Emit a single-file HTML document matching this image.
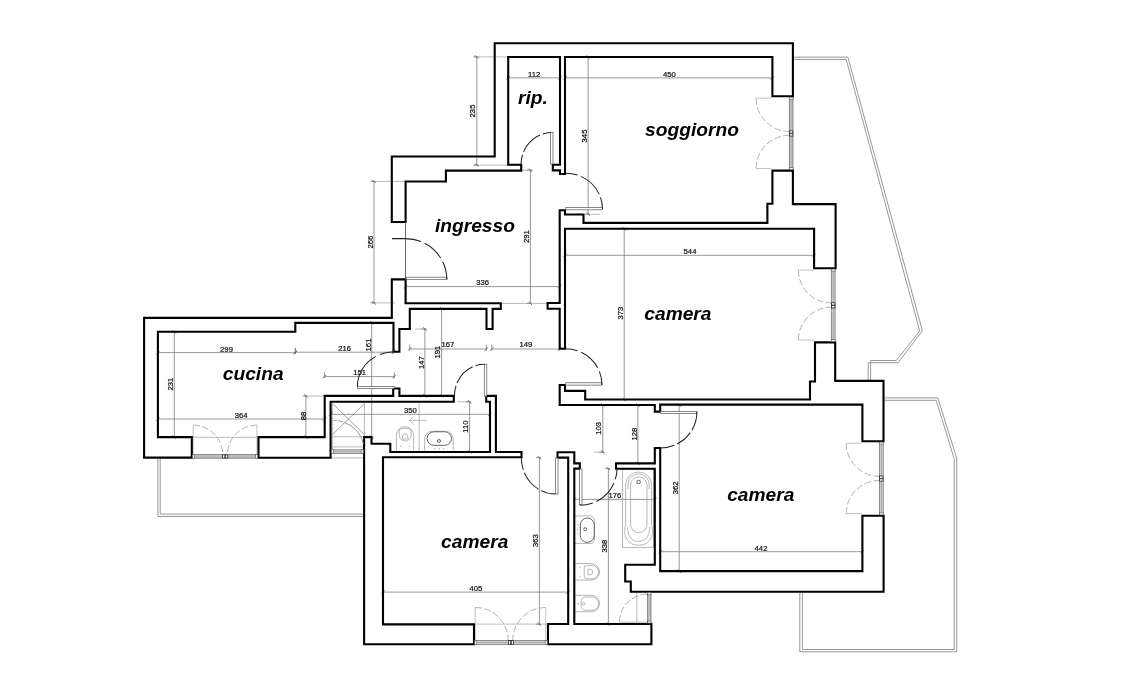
<!DOCTYPE html>
<html><head><meta charset="utf-8"><title>Pianta appartamento</title>
<style>
html,body{margin:0;padding:0;background:#fff;}
body{width:1140px;height:680px;overflow:hidden;font-family:"Liberation Sans",sans-serif;}
svg{display:block}
.w{fill:none;stroke:#000;stroke-width:2.1;stroke-linejoin:miter;}
.d{fill:none;stroke:#7e7e7e;stroke-width:0.8;}
.tk{fill:none;stroke:#555;stroke-width:0.8;}
.e{fill:none;stroke:#a8a8a8;stroke-width:0.8;}
.arc{fill:none;stroke:#222;stroke-width:1.05;}
.leaf{fill:#fff;stroke:#555;stroke-width:0.7;}
.arcl{fill:none;stroke:#a0a0a0;stroke-width:0.8;stroke-dasharray:6.8 2.4;}
.ll{fill:none;stroke:#b4b4b4;stroke-width:0.8;}
.bal{fill:none;stroke:#8c8c8c;stroke-width:0.9;}
.fx{fill:none;stroke:#9a9a9a;stroke-width:0.7;}
.fxd{fill:none;stroke:#555;stroke-width:0.9;}
.lab{font:italic bold 19.2px "Liberation Sans",sans-serif;fill:#000;}
.dim{font:7.7px "Liberation Sans",sans-serif;fill:#111;stroke:#111;stroke-width:0.22;}
</style></head><body>
<svg width="1140" height="680" viewBox="0 0 1140 680">
<rect width="1140" height="680" fill="#fff"/>
<g id="balconies">
<path class="bal" d="M794.2 57.1H847.9L922.4 330.9L898 362.7H868.2V380"/>
<path class="bal" d="M794.2 59.4H846.2L919.7 331L896.2 360.5H870.6V380"/>
<path class="bal" d="M884.6 397.9H937.8L956.7 458.1V651.8H799.8V593"/>
<path class="bal" d="M884.6 400.3H936.2L954.2 458.8V649.5H802.4V593"/>
<path class="bal" d="M157.9 458.7V516.5H363.3"/>
<path class="bal" d="M160.2 458.7V514.1H363.3"/>
</g>
<g id="ext">
<path class="e" d="M474.3 56.9L508 56.9"/>
<path class="e" d="M474.3 165.1L521 165.1"/>
<path class="e" d="M372 181.4L405.6 181.4"/>
<path class="e" d="M372 302.9L395 302.9"/>
<path class="e" d="M521.5 170.2L533 170.2"/>
<path class="e" d="M502 303.4L548 303.4"/>
<path class="e" d="M587.5 214.3L600 214.3"/>
<path class="e" d="M415.4 329L426.5 329"/>
<path class="e" d="M457.2 401.8L471 401.8"/>
<path class="e" d="M594 452.2L604.4 452.2"/>
<path class="e" d="M304 396.0L324.7 396.0"/>
<path class="e" d="M419.2 403.4L419.2 450.8"/>
<path class="e" d="M636.8 592.6L636.8 622.1"/>
<path class="e" d="M619.5 622.1L647.4 622.1"/>
<path class="e" d="M193 437.3L258 437.3"/>
<path class="e" d="M474 624.1L547 624.1"/>
<path class="e" d="M331 446.9L363.3 446.9"/>
<path class="e" d="M331 457.9L363.3 457.9"/>
<path class="e" d="M330.6 436.8L364.4 436.8"/>
<path class="e" d="M332.6 403.5L332.6 449"/>
<path class="e" d="M364.4 403.5L364.4 437.1"/>
</g>
<g id="dims" opacity="0.999">
<path class="d" d="M476.8 56.9V165.1"/>
<path class="d" d="M473.3 56.9H478.40000000000003"/>
<path class="tk" d="M475.1 55.199999999999996L478.5 58.6"/>
<path class="d" d="M473.3 165.1H478.40000000000003"/>
<path class="tk" d="M475.1 163.4L478.5 166.79999999999998"/>
<text class="dim" transform="translate(475.09999999999997 111.0) rotate(-90)" text-anchor="middle">235</text>
<path class="d" d="M508.2 77.9H560"/>
<path class="d" d="M508.2 73.60000000000001V79.5"/>
<path class="tk" d="M506.5 79.60000000000001L509.9 76.2"/>
<path class="d" d="M560 73.60000000000001V79.5"/>
<path class="tk" d="M558.3 79.60000000000001L561.7 76.2"/>
<text class="dim" x="534.1" y="77.0" text-anchor="middle">112</text>
<path class="d" d="M565 77.9H772.4"/>
<path class="d" d="M565 73.60000000000001V79.5"/>
<path class="tk" d="M563.3 79.60000000000001L566.7 76.2"/>
<path class="d" d="M772.4 73.60000000000001V79.5"/>
<path class="tk" d="M770.6999999999999 79.60000000000001L774.1 76.2"/>
<text class="dim" x="669.4" y="77.0" text-anchor="middle">450</text>
<path class="d" d="M588.1 57V214.2"/>
<path class="d" d="M584.6 57H589.7"/>
<path class="tk" d="M586.4 55.3L589.8000000000001 58.7"/>
<path class="d" d="M584.6 214.2H589.7"/>
<path class="tk" d="M586.4 212.5L589.8000000000001 215.89999999999998"/>
<text class="dim" transform="translate(586.5 136.0) rotate(-90)" text-anchor="middle">345</text>
<path class="d" d="M374.0 181.4V302.9"/>
<path class="d" d="M370.5 181.4H375.6"/>
<path class="tk" d="M372.3 179.70000000000002L375.7 183.1"/>
<path class="d" d="M370.5 302.9H375.6"/>
<path class="tk" d="M372.3 301.2L375.7 304.59999999999997"/>
<text class="dim" transform="translate(372.7 242.1) rotate(-90)" text-anchor="middle">266</text>
<path class="d" d="M530.4 170.2V303.4"/>
<path class="d" d="M526.9 170.2H532.0"/>
<path class="tk" d="M528.6999999999999 168.5L532.1 171.89999999999998"/>
<path class="d" d="M526.9 303.4H532.0"/>
<path class="tk" d="M528.6999999999999 301.7L532.1 305.09999999999997"/>
<text class="dim" transform="translate(529.0 236.7) rotate(-90)" text-anchor="middle">291</text>
<path class="d" d="M405.6 286.6H559.7"/>
<path class="d" d="M405.6 282.3V288.20000000000005"/>
<path class="tk" d="M403.90000000000003 288.3L407.3 284.90000000000003"/>
<path class="d" d="M559.7 282.3V288.20000000000005"/>
<path class="tk" d="M558.0 288.3L561.4000000000001 284.90000000000003"/>
<text class="dim" x="482.6" y="285.4" text-anchor="middle">336</text>
<path class="d" d="M565 255.3H814.1"/>
<path class="d" d="M565 251.0V256.90000000000003"/>
<path class="tk" d="M563.3 257.0L566.7 253.60000000000002"/>
<path class="d" d="M814.1 251.0V256.90000000000003"/>
<path class="tk" d="M812.4 257.0L815.8000000000001 253.60000000000002"/>
<text class="dim" x="690.0" y="254.39999999999998" text-anchor="middle">544</text>
<path class="d" d="M624.2 228.8V399.6"/>
<path class="d" d="M620.7 228.8H625.8000000000001"/>
<path class="tk" d="M622.5 227.10000000000002L625.9000000000001 230.5"/>
<path class="d" d="M620.7 399.6H625.8000000000001"/>
<path class="tk" d="M622.5 397.90000000000003L625.9000000000001 401.3"/>
<text class="dim" transform="translate(623.0 313.2) rotate(-90)" text-anchor="middle">373</text>
<path class="d" d="M409.7 349.0H486.4"/>
<path class="d" d="M409.7 344.7V350.6"/>
<path class="tk" d="M408.0 350.7L411.4 347.3"/>
<path class="d" d="M486.4 344.7V350.6"/>
<path class="tk" d="M484.7 350.7L488.09999999999997 347.3"/>
<text class="dim" x="447.8" y="347.4" text-anchor="middle">167</text>
<path class="d" d="M491.8 349.0H559.7"/>
<path class="d" d="M491.8 344.7V350.6"/>
<path class="tk" d="M490.1 350.7L493.5 347.3"/>
<path class="d" d="M559.7 344.7V350.6"/>
<path class="tk" d="M558.0 350.7L561.4000000000001 347.3"/>
<text class="dim" x="525.9" y="347.4" text-anchor="middle">149</text>
<path class="d" d="M424.9 329V395.9"/>
<path class="d" d="M421.4 329H426.5"/>
<path class="tk" d="M423.2 327.3L426.59999999999997 330.7"/>
<path class="d" d="M421.4 395.9H426.5"/>
<path class="tk" d="M423.2 394.2L426.59999999999997 397.59999999999997"/>
<text class="dim" transform="translate(423.59999999999997 362.6) rotate(-90)" text-anchor="middle">147</text>
<path class="d" d="M441.6 308.5V395.9"/>
<path class="d" d="M438.1 308.5H443.20000000000005"/>
<path class="tk" d="M439.90000000000003 306.8L443.3 310.2"/>
<path class="d" d="M438.1 395.9H443.20000000000005"/>
<path class="tk" d="M439.90000000000003 394.2L443.3 397.59999999999997"/>
<text class="dim" transform="translate(440.2 352.2) rotate(-90)" text-anchor="middle">191</text>
<path class="d" d="M295.3 352.2H393.5"/>
<path class="d" d="M295.3 347.9V353.8"/>
<path class="tk" d="M293.6 353.9L297.0 350.5"/>
<path class="d" d="M393.5 347.9V353.8"/>
<path class="tk" d="M391.8 353.9L395.2 350.5"/>
<text class="dim" x="344.7" y="351.2" text-anchor="middle">216</text>
<path class="d" d="M371.7 322.9V437.1"/>
<path class="d" d="M368.2 322.9H373.3"/>
<path class="tk" d="M370.0 321.2L373.4 324.59999999999997"/>
<path class="d" d="M368.2 437.1H373.3"/>
<path class="tk" d="M370.0 435.40000000000003L373.4 438.8"/>
<text class="dim" transform="translate(370.5 345.0) rotate(-90)" text-anchor="middle">161</text>
<path class="d" d="M324.4 376.6H394.3"/>
<path class="d" d="M324.4 372.3V378.20000000000005"/>
<path class="tk" d="M322.7 378.3L326.09999999999997 374.90000000000003"/>
<path class="d" d="M394.3 372.3V378.20000000000005"/>
<path class="tk" d="M392.6 378.3L396.0 374.90000000000003"/>
<text class="dim" x="359.7" y="375.2" text-anchor="middle">151</text>
<path class="d" d="M157.9 352.6H295.3"/>
<path class="d" d="M157.9 348.3V354.20000000000005"/>
<path class="tk" d="M156.20000000000002 354.3L159.6 350.90000000000003"/>
<path class="d" d="M295.3 348.3V354.20000000000005"/>
<path class="tk" d="M293.6 354.3L297.0 350.90000000000003"/>
<text class="dim" x="226.5" y="351.7" text-anchor="middle">299</text>
<path class="d" d="M174.3 331.8V437.1"/>
<path class="d" d="M170.8 331.8H175.9"/>
<path class="tk" d="M172.60000000000002 330.1L176.0 333.5"/>
<path class="d" d="M170.8 437.1H175.9"/>
<path class="tk" d="M172.60000000000002 435.40000000000003L176.0 438.8"/>
<text class="dim" transform="translate(173.1 384.1) rotate(-90)" text-anchor="middle">231</text>
<path class="d" d="M157.9 419.0H324.7"/>
<path class="d" d="M157.9 414.7V420.6"/>
<path class="tk" d="M156.20000000000002 420.7L159.6 417.3"/>
<path class="d" d="M324.7 414.7V420.6"/>
<path class="tk" d="M323.0 420.7L326.4 417.3"/>
<text class="dim" x="241.2" y="418.0" text-anchor="middle">364</text>
<path class="d" d="M305.9 396.0V437.1"/>
<path class="d" d="M302.4 396.0H307.5"/>
<path class="tk" d="M304.2 394.3L307.59999999999997 397.7"/>
<path class="d" d="M302.4 437.1H307.5"/>
<path class="tk" d="M304.2 435.40000000000003L307.59999999999997 438.8"/>
<text class="dim" transform="translate(305.59999999999997 415.9) rotate(-90)" text-anchor="middle">88</text>
<path class="d" d="M330.6 414.3H490"/>
<path class="d" d="M330.6 410.0V415.90000000000003"/>
<path class="tk" d="M328.90000000000003 416.0L332.3 412.6"/>
<path class="d" d="M490 410.0V415.90000000000003"/>
<path class="tk" d="M488.3 416.0L491.7 412.6"/>
<text class="dim" x="410.3" y="412.9" text-anchor="middle">350</text>
<path class="d" d="M469.6 401.8V451.8"/>
<path class="d" d="M466.1 401.8H471.20000000000005"/>
<path class="tk" d="M467.90000000000003 400.1L471.3 403.5"/>
<path class="d" d="M466.1 451.8H471.20000000000005"/>
<path class="tk" d="M467.90000000000003 450.1L471.3 453.5"/>
<text class="dim" transform="translate(468.3 426.7) rotate(-90)" text-anchor="middle">110</text>
<path class="d" d="M602.8 405V452.2"/>
<path class="d" d="M599.3 405H604.4"/>
<path class="tk" d="M601.0999999999999 403.3L604.5 406.7"/>
<path class="d" d="M599.3 452.2H604.4"/>
<path class="tk" d="M601.0999999999999 450.5L604.5 453.9"/>
<text class="dim" transform="translate(601.0 428.4) rotate(-90)" text-anchor="middle">103</text>
<path class="d" d="M637.9 405V463.4"/>
<path class="d" d="M634.4 405H639.5"/>
<path class="tk" d="M636.1999999999999 403.3L639.6 406.7"/>
<path class="d" d="M634.4 463.4H639.5"/>
<path class="tk" d="M636.1999999999999 461.7L639.6 465.09999999999997"/>
<text class="dim" transform="translate(636.7 434.2) rotate(-90)" text-anchor="middle">128</text>
<path class="d" d="M679.2 405V571.1"/>
<path class="d" d="M675.7 405H680.8000000000001"/>
<path class="tk" d="M677.5 403.3L680.9000000000001 406.7"/>
<path class="d" d="M675.7 571.1H680.8000000000001"/>
<path class="tk" d="M677.5 569.4L680.9000000000001 572.8000000000001"/>
<text class="dim" transform="translate(678.0 487.9) rotate(-90)" text-anchor="middle">362</text>
<path class="d" d="M574.4 499.4H654.8"/>
<path class="d" d="M574.4 495.09999999999997V501.0"/>
<path class="tk" d="M572.6999999999999 501.09999999999997L576.1 497.7"/>
<path class="d" d="M654.8 495.09999999999997V501.0"/>
<path class="tk" d="M653.0999999999999 501.09999999999997L656.5 497.7"/>
<text class="dim" x="614.8" y="498.09999999999997" text-anchor="middle">176</text>
<path class="d" d="M608.4 468.6V624"/>
<path class="d" d="M604.9 468.6H610.0"/>
<path class="tk" d="M606.6999999999999 466.90000000000003L610.1 470.3"/>
<path class="d" d="M604.9 624H610.0"/>
<path class="tk" d="M606.6999999999999 622.3L610.1 625.7"/>
<text class="dim" transform="translate(607.1 546.2) rotate(-90)" text-anchor="middle">338</text>
<path class="d" d="M660.2 551.7H862.4"/>
<path class="d" d="M660.2 547.4000000000001V553.3000000000001"/>
<path class="tk" d="M658.5 553.4000000000001L661.9000000000001 550.0"/>
<path class="d" d="M862.4 547.4000000000001V553.3000000000001"/>
<path class="tk" d="M860.6999999999999 553.4000000000001L864.1 550.0"/>
<text class="dim" x="761.0" y="550.6" text-anchor="middle">442</text>
<path class="d" d="M539.4 457.6V624.2"/>
<path class="d" d="M535.9 457.6H541.0"/>
<path class="tk" d="M537.6999999999999 455.90000000000003L541.1 459.3"/>
<path class="d" d="M535.9 624.2H541.0"/>
<path class="tk" d="M537.6999999999999 622.5L541.1 625.9000000000001"/>
<text class="dim" transform="translate(537.9000000000001 540.6) rotate(-90)" text-anchor="middle">363</text>
<path class="d" d="M383 592.1H568.2"/>
<path class="d" d="M383 587.8000000000001V593.7"/>
<path class="tk" d="M381.3 593.8000000000001L384.7 590.4"/>
<path class="d" d="M568.2 587.8000000000001V593.7"/>
<path class="tk" d="M566.5 593.8000000000001L569.9000000000001 590.4"/>
<text class="dim" x="475.8" y="590.8000000000001" text-anchor="middle">405</text>
<path class="e" d="M409.2 420.3H426.6M413.6 416.6L409.2 420.3L413.6 424.5"/>
</g>
<g id="fixtures">
<path class="tk" style="stroke:#666;stroke-width:0.6" d="M332.6 403.8L364.4 434.4M364.4 403.8L332.6 434.4"/>
<path class="fx" d="M396.4 450.8V435.2A8.6 8.6 0 0 1 413.6 435.2V450.8"/>
<path class="fx" d="M399.2 431A2.5 2.5 0 0 1 401.7 428.5H408.6A2.5 2.5 0 0 1 411.1 431V435A5.9 5.9 0 0 1 399.2 435Z"/>
<path class="fx" d="M402.5 439V436.5A2.7 2.7 0 0 1 407.9 436.5V439Z"/>
<circle cx="400.8" cy="446.6" r="0.5" fill="#888"/><circle cx="409.5" cy="446.6" r="0.5" fill="#888"/>
<path class="fx" d="M424.5 450.8V439A7.7 7.7 0 0 1 432.2 431.3H445.5A7.7 7.7 0 0 1 453.2 439V450.8"/>
<rect class="fxd" x="427.1" y="431.8" width="24.4" height="13.5" rx="6.75"/>
<circle class="fxd" cx="439" cy="441" r="1.5"/>
<circle cx="434.5" cy="448.7" r="0.55" fill="#777"/>
<circle cx="439.2" cy="448.7" r="0.55" fill="#777"/>
<circle cx="443.7" cy="448.7" r="0.55" fill="#777"/>
<path class="fx" d="M575 515.9H590A4.5 4.5 0 0 1 594.5 520.4V539A4.5 4.5 0 0 1 590 543.5H575"/>
<rect class="fxd" x="580.3" y="518" width="14" height="24.4" rx="7"/>
<circle class="fxd" cx="585.2" cy="529.2" r="1.5"/>
<circle cx="577.8" cy="524.5" r="0.55" fill="#777"/>
<circle cx="577.8" cy="529.2" r="0.55" fill="#777"/>
<circle cx="577.8" cy="533.8" r="0.55" fill="#777"/>
<path class="fx" d="M575.4 563.5H591.3A8.3 8.3 0 0 1 591.3 580.1H575.4"/>
<path class="fx" d="M586.7 565.4H592A6.1 6.1 0 0 1 592 578.7H586.7A2.5 2.5 0 0 1 584.2 576.2V567.9A2.5 2.5 0 0 1 586.7 565.4Z"/>
<path class="fx" d="M587.9 569.3H590A2.6 2.6 0 0 1 590 574.8H587.9Z"/>
<circle cx="579.8" cy="567.6" r="0.5" fill="#888"/><circle cx="579.8" cy="576.5" r="0.5" fill="#888"/>
<path class="fx" d="M575.4 595.3H591.3A8.25 8.25 0 0 1 591.3 611.8H575.4"/>
<path class="fx" d="M585.5 597H592A6.6 6.6 0 0 1 592 610.3H585.5A4.3 4.3 0 0 1 581.2 606V601.3A4.3 4.3 0 0 1 585.5 597Z"/>
<circle class="fx" cx="583.7" cy="603.7" r="1.4"/><circle cx="578" cy="603.7" r="0.6" fill="#888"/>
<rect class="fx" x="622.5" y="469.3" width="31" height="78"/>
<path class="fx" d="M625.6 525V485A13 13 0 0 1 651.6 485V525C654 532 652.5 545.2 638.6 545.2C624.700 545.2 623.2 532 625.6 525Z"/>
<path class="fx" d="M628 489V484.500A10.6 10.6 0 0 1 649.2 484.500V489"/>
<rect class="fx" x="630.6" y="476.8" width="16.4" height="55.8" rx="8.2"/>
<path class="fx" d="M627.5 527C627.500 535 631 541.5 638.6 541.5C646.200 541.5 649.7 535 649.7 527"/>
<circle class="fxd" cx="638.6" cy="482.1" r="1.8"/>
</g>
<g id="lightdoors">
<path class="ll" d="M756.0999999999999 98.2H771.3999999999999M756.0999999999999 168.5H771.3999999999999"/>
<path class="arcl" d="M756.0999999999999 98.2A33.2 33.2 0 0 0 789.3 131.4"/>
<path class="arcl" d="M756.0999999999999 168.5A33.2 33.2 0 0 1 789.3 135.3"/>
<path class="ll" d="M798.4000000000001 270.1H813.7M798.4000000000001 340.0H813.7"/>
<path class="arcl" d="M798.4000000000001 270.1A32.8 32.8 0 0 0 831.2 302.90000000000003"/>
<path class="arcl" d="M798.4000000000001 340.0A32.8 32.8 0 0 1 831.2 307.2"/>
<path class="ll" d="M846.1999999999999 443.2H861.4999999999999M846.1999999999999 513.6H861.4999999999999"/>
<path class="arcl" d="M846.1999999999999 443.2A33.1 33.1 0 0 0 879.3 476.3"/>
<path class="arcl" d="M846.1999999999999 513.6A33.1 33.1 0 0 1 879.3 480.5"/>
<path class="ll" d="M193.2 425.1V454.6M256.9 425.1V454.6"/>
<path class="arcl" d="M193.2 425.1A29.5 29.5 0 0 1 222.7 454.6"/>
<path class="arcl" d="M256.9 425.1A29.5 29.5 0 0 0 227.39999999999998 454.6"/>
<path class="ll" d="M475.2 607.5V640.5M545.7 607.5V640.5"/>
<path class="arcl" d="M475.2 607.5A33 33 0 0 1 508.2 640.5"/>
<path class="arcl" d="M545.7 607.5A33 33 0 0 0 512.7 640.5"/>
<path class="arcl" d="M619.5 622.1A28 28 0 0 1 647.4 594.1"/>
</g>
<g id="walls">
<path class="w" d="M494.7 43.2H792.9V96.2H772.4V57H565V174H560V170.4H552.8V164.7H560V57H508.2V164.7H521.2V170.6H445.9V181.5H405.6V222H391.8V156.5H494.7Z"/>
<path class="w" d="M772.4 170.6H792.9V204.1H835.6V268.2H814.1V228.8H565V348.8H559.7V308.8H547.6V303H559.7V210.3H565V214.5H583.5V222.9H767.4V203.8H772.4Z"/>
<path class="w" d="M559.7 385H565V390.9H585.2V399.5H810V381.5H815V342.4H835.2V380.9H883.5V441.2H862.4V404.6H660.2V411.6H654.8V405H559.7Z"/>
<path class="w" d="M654.8 448H660.2V571.1H862.4V515.7H883.6V591.8H630.8V581.5H625.2V564.8H654.8V468.8H616V463.4H654.8Z"/>
<path class="w" d="M557.5 452.3H574.3V463.4H579.8V468.6H574.3V624H651.4V644.3H548V624H568.2V457.6H557.5Z"/>
<path class="w" d="M364.1 437.1H371.5V443.8H390.3V452H490V401.8H486.2V395.9H495.9V452H521.5V457.3H383V624.4H474V644.3H364.1Z"/>
<path class="w" d="M144.1 317.9H391.8V279.4H405.6V303.3H500.8V308.9H492.6V329H486.5V308.9H409.8V329H399.4V351.8H393.5V322.9H295.3V331.8H157.9V437.1H191.8V457.6H144.1Z"/>
<path class="w" d="M258.5 437.1H324.7V395.9H393.2V388.5H399.4V395.9H453.8V401.8H330.6V457.8H258.5Z"/>
</g>
<g id="windows">
<rect x="789.3" y="97.4" width="3.70" height="72.10" fill="#bcbcbc" stroke="#707070" stroke-width="0.75"/>
<rect x="789.3" y="97.20" width="3.70" height="2" fill="#fff" stroke="#555" stroke-width="0.6"/>
<rect x="789.3" y="167.70" width="3.70" height="2" fill="#fff" stroke="#555" stroke-width="0.6"/>
<rect x="789.50" y="130.85" width="3.30" height="2.3" fill="#fff" stroke="#2a2a2a" stroke-width="0.8"/>
<rect x="789.50" y="133.75" width="3.30" height="2.3" fill="#fff" stroke="#2a2a2a" stroke-width="0.8"/>
<rect x="831.3" y="269.3" width="3.80" height="72.10" fill="#d4d4d4" stroke="#707070" stroke-width="0.75"/>
<path d="M833.2 269.3V341.4" stroke="#8a8a8a" stroke-width="0.6"/>
<rect x="831.3" y="269.10" width="3.80" height="2" fill="#fff" stroke="#555" stroke-width="0.6"/>
<rect x="831.3" y="339.60" width="3.80" height="2" fill="#fff" stroke="#555" stroke-width="0.6"/>
<rect x="831.50" y="302.75" width="3.40" height="2.3" fill="#fff" stroke="#2a2a2a" stroke-width="0.8"/>
<rect x="831.50" y="305.65" width="3.40" height="2.3" fill="#fff" stroke="#2a2a2a" stroke-width="0.8"/>
<rect x="879.4" y="442.3" width="3.80" height="72.40" fill="#d4d4d4" stroke="#707070" stroke-width="0.75"/>
<path d="M881.3 442.3V514.7" stroke="#8a8a8a" stroke-width="0.6"/>
<rect x="879.4" y="442.10" width="3.80" height="2" fill="#fff" stroke="#555" stroke-width="0.6"/>
<rect x="879.4" y="512.90" width="3.80" height="2" fill="#fff" stroke="#555" stroke-width="0.6"/>
<rect x="879.60" y="475.90" width="3.40" height="2.3" fill="#fff" stroke="#2a2a2a" stroke-width="0.8"/>
<rect x="879.60" y="478.80" width="3.40" height="2.3" fill="#fff" stroke="#2a2a2a" stroke-width="0.8"/>
<rect x="647.6" y="593.0" width="3.40" height="29.80" fill="#bcbcbc" stroke="#707070" stroke-width="0.75"/>
<rect x="647.6" y="592.80" width="3.40" height="2" fill="#fff" stroke="#555" stroke-width="0.6"/>
<rect x="647.6" y="621.00" width="3.40" height="2" fill="#fff" stroke="#555" stroke-width="0.6"/>
<rect x="192.9" y="454.6" width="64.60" height="3.60" fill="#bcbcbc" stroke="#707070" stroke-width="0.75"/>
<rect x="192.70" y="454.6" width="2" height="3.60" fill="#fff" stroke="#555" stroke-width="0.6"/>
<rect x="255.70" y="454.6" width="2" height="3.60" fill="#fff" stroke="#555" stroke-width="0.6"/>
<rect x="222.60" y="454.80" width="2.3" height="3.20" fill="#fff" stroke="#2a2a2a" stroke-width="0.8"/>
<rect x="225.50" y="454.80" width="2.3" height="3.20" fill="#fff" stroke="#2a2a2a" stroke-width="0.8"/>
<rect x="475.0" y="640.4" width="72.00" height="4.20" fill="#d4d4d4" stroke="#707070" stroke-width="0.75"/>
<path d="M475.0 642.5H547.0" stroke="#8a8a8a" stroke-width="0.6"/>
<rect x="474.80" y="640.4" width="2" height="4.20" fill="#fff" stroke="#555" stroke-width="0.6"/>
<rect x="545.20" y="640.4" width="2" height="4.20" fill="#fff" stroke="#555" stroke-width="0.6"/>
<rect x="508.40" y="640.60" width="2.3" height="3.80" fill="#fff" stroke="#2a2a2a" stroke-width="0.8"/>
<rect x="511.30" y="640.60" width="2.3" height="3.80" fill="#fff" stroke="#2a2a2a" stroke-width="0.8"/>
<rect x="331.6" y="449.8" width="31.40" height="3.60" fill="#d4d4d4" stroke="#707070" stroke-width="0.75"/>
<path d="M331.6 451.6H363.0" stroke="#8a8a8a" stroke-width="0.6"/>
<rect x="331.40" y="449.8" width="2" height="3.60" fill="#fff" stroke="#555" stroke-width="0.6"/>
<rect x="361.20" y="449.8" width="2" height="3.60" fill="#fff" stroke="#555" stroke-width="0.6"/>
</g>
<g id="doors">
<path d="M405.5 222V279.4" stroke="#444" stroke-width="0.8" fill="none"/>
<rect class="leaf" x="406.2" y="277.2" width="40.7" height="2.1"/>
<path class="arc" stroke-dasharray="29.5 4 22 4 30" d="M391.9 238.6H405.5A41.3 40.8 0 0 1 446.8 279.4"/>
<rect class="leaf" x="550.6" y="132.6" width="2.4" height="31.4"/>
<path class="arc" stroke-dasharray="8 3 24 3 30" d="M550.6 132.6A31 32.1 0 0 0 521 164.7"/>
<rect class="leaf" x="565.8" y="207.6" width="36.6" height="2.2"/>
<path class="arc" stroke-dasharray="12 3.5 26 3.5 30" d="M565.8 173.2A36.700 35.8 0 0 1 602.5 209"/>
<rect class="leaf" x="565.7" y="382.8" width="36.2" height="2.3"/>
<path class="arc" stroke-dasharray="12 4 23 4 30" d="M565.7 348.700A36.300 36.2 0 0 1 602 384.9"/>
<rect class="leaf" x="660.3" y="411.5" width="36.6" height="2.1"/>
<path class="arc" stroke-dasharray="19 3 17.5 3 30" d="M696.9 412A36.6 36 0 0 1 660.300 448"/>
<rect class="leaf" x="357.4" y="386.400" width="36.700" height="2.1"/>
<path class="arc" stroke-dasharray="37 4.5 30" d="M357.4 386.5A36.5 34.7 0 0 1 393.9 351.8"/>
<rect class="leaf" x="484.3" y="364.3" width="2.5" height="31.8"/>
<path class="arc" stroke-dasharray="9 3 23 3 30" d="M484.3 364.3A29.9 31.8 0 0 0 454.4 396.1"/>
<rect class="leaf" x="555.4" y="458" width="2.6" height="36"/>
<path class="arc" stroke-dasharray="12 3 22 3 30" d="M521.4 458A34 36 0 0 0 555.4 494"/>
<rect class="leaf" x="579.6" y="469" width="2.4" height="35.7"/>
<path class="arc" stroke-dasharray="13 4 26 4 30" d="M580 505.300A37 36.9 0 0 0 617 468.4"/>
<path class="arc" style="stroke:#7a7a7a;stroke-width:0.75" stroke-dasharray="3.500 1.5 5 1.5 60" d="M333.2 420.3A31.5 31.5 0 0 1 363.6 444"/>
</g>
<g id="labels" opacity="0.999">
<text class="lab" x="518.0" y="104.2">rip.</text>
<text class="lab" x="645.1" y="136.1">soggiorno</text>
<text class="lab" x="434.9" y="231.5">ingresso</text>
<text class="lab" x="644.3" y="320.3">camera</text>
<text class="lab" x="222.8" y="380.4">cucina</text>
<text class="lab" x="727.2" y="501.3">camera</text>
<text class="lab" x="441.1" y="547.7">camera</text>
</g>
</svg>
</body></html>
